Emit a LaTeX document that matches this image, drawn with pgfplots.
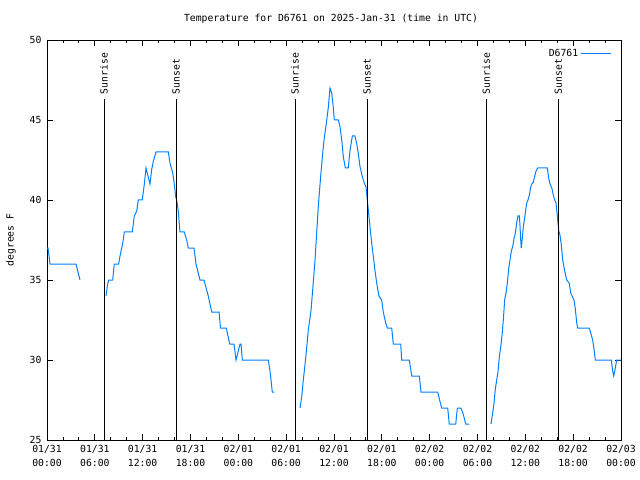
\documentclass[border=0pt]{standalone}
\usepackage{pgfplots}
\pgfplotsset{compat=1.18}
\usepackage{fontspec}
\setmainfont{DejaVu Sans Mono}
\setmonofont{DejaVu Sans Mono}
\definecolor{dblue}{RGB}{0,128,255}
\newcommand{\fs}{\fontsize{9.8}{12}\selectfont}
\begin{document}
\begin{tikzpicture}
\path[use as bounding box] (-47bp,-40bp) rectangle (593bp,440bp);
\begin{axis}[
  at={(0bp,0bp)}, anchor=south west,
  width=574bp, height=400bp, scale only axis,
  xmin=0, xmax=72, ymin=25, ymax=50,
  xtick={0,6,...,72},
  xticklabels={{01/31\\00:00},{01/31\\06:00},{01/31\\12:00},{01/31\\18:00},{02/01\\00:00},{02/01\\06:00},{02/01\\12:00},{02/01\\18:00},{02/02\\00:00},{02/02\\06:00},{02/02\\12:00},{02/02\\18:00},{02/03\\00:00}},
  xticklabel style={align=center, font=\fontsize{9.8}{14}\selectfont, yshift=-2bp},
  yticklabel style={font=\fs, xshift=-2bp},
  minor x tick num=2,
  ytick={25,30,...,50},
  tick align=inside,
  major tick length=6bp, minor tick length=3bp,
  tick style={black, line width=0.8bp},
  axis line style={line width=0.8bp},
  /pgf/number format/assume math mode=true,
  unbounded coords=jump,
  legend style={at={(rel axis cs:0.985,0.985)}, anchor=north east, draw=none, fill=none, font=\fs, inner sep=1pt},
  legend cell align=right,
  legend plot pos=right,
  legend image code/.code={\draw[#1] (0bp,0bp) -- (30bp,0bp);},
  clip=false,
]
\addplot[dblue, line width=1bp] coordinates {
(0,37) (0.13,37) (0.38,36) (3.64,36) (3.89,35.5) (4.14,35)
(5,nan)
(7.40,34) (7.61,34.75) (7.74,35) (8.24,35) (8.44,36) (8.99,36) (9.16,36.5) (9.50,37.3) (9.70,38) (10.70,38) (10.95,39) (11.25,39.3) (11.45,40) (11.95,40) (12.21,41) (12.42,42) (12.67,41.5) (12.92,41) (13.13,41.9) (13.33,42.4) (13.67,43) (15.22,43) (15.43,42.3) (15.77,41.7) (15.97,41) (16.14,40.2) (16.27,40) (16.47,39.3) (16.68,38) (17.22,38) (17.52,37.5) (17.72,37) (18.44,37) (18.69,36) (19.19,35) (19.69,35) (20.23,34) (20.66,33) (21.58,33) (21.76,32) (22.49,32) (22.92,31) (23.46,31) (23.71,30) (23.87,30.3) (24.21,31) (24.34,31) (24.50,30) (27.76,30) (27.97,29.3) (28.10,28.75) (28.26,28) (28.51,28)
(30,nan)
(31.74,27) (31.95,27.7) (32.15,28.75) (32.36,29.7) (32.58,30.8) (32.78,31.9) (33.12,33.1) (33.33,34.4) (33.62,36.25) (34.03,39.6) (34.33,41.5) (34.58,42.9) (34.75,43.75) (35.09,45) (35.29,45.8) (35.50,47) (35.71,46.7) (35.91,45.8) (36.04,45) (36.54,45) (36.75,44.6) (36.97,43.75) (37.17,42.7) (37.42,42) (37.79,42) (38.01,43.1) (38.30,44) (38.63,44) (38.85,43.5) (39.05,42.9) (39.26,42.1) (39.48,41.6) (39.77,41.1) (40.02,40.8) (40.18,40.0) (40.30,39.4) (40.52,38.3) (40.73,37.3) (40.93,36.5) (41.14,35.6) (41.36,34.8) (41.64,34) (41.98,33.75) (42.18,33) (42.49,32.3) (42.69,32) (43.24,32) (43.44,31) (44.37,31) (44.49,30) (45.45,30) (45.75,29) (46.70,29) (46.91,28) (49.01,28) (49.30,27.4) (49.51,27) (50.26,27) (50.46,26) (51.27,26) (51.47,27) (51.93,27) (52.22,26.6) (52.52,26) (52.97,26)
(54,nan)
(55.69,26) (55.91,26.7) (56.07,27.3) (56.24,28.2) (56.41,28.75) (56.58,29.3) (56.74,30.2) (56.91,30.8) (57.07,31.5) (57.24,32.5) (57.41,33.75) (57.58,34.2) (57.74,34.8) (57.91,35.7) (58.08,36.25) (58.24,36.8) (58.42,37.1) (58.58,37.6) (58.74,37.9) (58.92,38.6) (59.08,39) (59.25,39) (59.33,38.4) (59.42,37.5) (59.49,37) (59.62,37.6) (59.74,38.3) (59.92,38.9) (60.05,39.4) (60.17,39.8) (60.34,40) (60.50,40.3) (60.67,40.8) (60.80,41) (61.00,41.1) (61.18,41.5) (61.34,41.8) (61.55,42) (62.76,42) (62.93,41.35) (63.10,41) (63.35,40.7) (63.51,40.3) (63.69,40) (63.85,39.8) (64.01,39) (64.19,38.1) (64.35,37.8) (64.51,37.2) (64.69,36.25) (64.85,35.8) (65.01,35.4) (65.19,35) (65.51,34.8) (65.69,34.2) (65.86,34) (66.11,33.75) (66.27,33.2) (66.45,32.3) (66.57,32) (68.02,32) (68.20,31.7) (68.45,31.25) (68.61,30.7) (68.78,30) (70.79,30) (70.96,29.3) (71.09,29) (71.25,29.4) (71.46,30) (72,30)
};
\addlegendentry{D6761\hspace{6bp}}
\addplot[black, line width=0.8bp, forget plot] coordinates {(7.15,25) (7.15,46.3)};
\addplot[black, line width=0.8bp, forget plot] coordinates {(16.18,25) (16.18,46.3)};
\addplot[black, line width=0.8bp, forget plot] coordinates {(31.11,25) (31.11,46.3)};
\addplot[black, line width=0.8bp, forget plot] coordinates {(40.16,25) (40.16,46.3)};
\addplot[black, line width=0.8bp, forget plot] coordinates {(55.10,25) (55.10,46.3)};
\addplot[black, line width=0.8bp, forget plot] coordinates {(64.14,25) (64.14,46.3)};
\node[rotate=90, anchor=west, font=\fs, inner sep=1pt] at (axis cs:7.15,46.55) {Sunrise};
\node[rotate=90, anchor=west, font=\fs, inner sep=1pt] at (axis cs:16.18,46.55) {Sunset};
\node[rotate=90, anchor=west, font=\fs, inner sep=1pt] at (axis cs:31.11,46.55) {Sunrise};
\node[rotate=90, anchor=west, font=\fs, inner sep=1pt] at (axis cs:40.16,46.55) {Sunset};
\node[rotate=90, anchor=west, font=\fs, inner sep=1pt] at (axis cs:55.10,46.55) {Sunrise};
\node[rotate=90, anchor=west, font=\fs, inner sep=1pt] at (axis cs:64.14,46.55) {Sunset};
\end{axis}
\node[font=\fs] at (284bp,421bp) {Temperature for D6761 on 2025-Jan-31 (time in UTC)};
\node[rotate=90, font=\fs] at (-36bp,200bp) {degrees F};
\end{tikzpicture}
\end{document}
